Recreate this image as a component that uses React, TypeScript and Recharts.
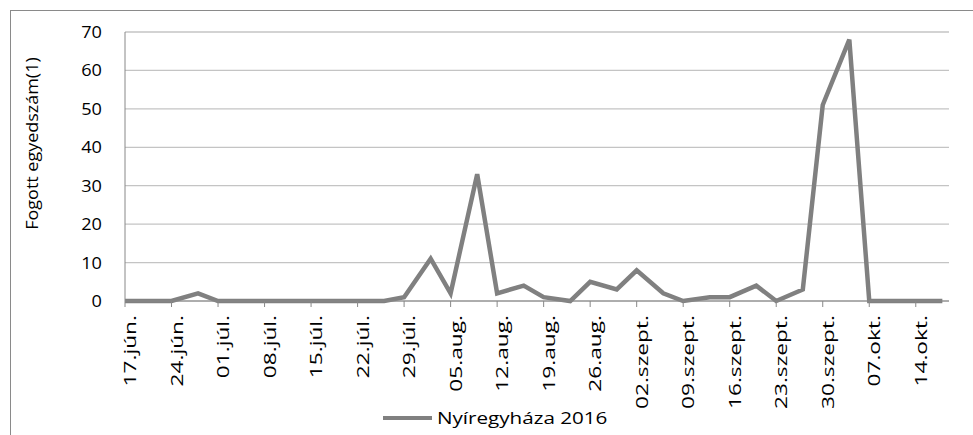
import React from "react";
import { LineChart, Line, XAxis, YAxis, CartesianGrid, Legend, Label } from "recharts";

// sampling dates (twice a week) and catches
const sampleDates = [
  "2016-06-17", "2016-06-21", "2016-06-24", "2016-06-28", "2016-07-01", "2016-07-05",
  "2016-07-08", "2016-07-12", "2016-07-15", "2016-07-19", "2016-07-22", "2016-07-26",
  "2016-07-29", "2016-08-02", "2016-08-05", "2016-08-09", "2016-08-12", "2016-08-16",
  "2016-08-19", "2016-08-23", "2016-08-26", "2016-08-30", "2016-09-02", "2016-09-06",
  "2016-09-09", "2016-09-13", "2016-09-16", "2016-09-20", "2016-09-23", "2016-09-27",
  "2016-09-30", "2016-10-04", "2016-10-07", "2016-10-11", "2016-10-14", "2016-10-18",
];
const catches = [
  0, 0, 0, 2, 0, 0,
  0, 0, 0, 0, 0, 0,
  1, 11, 2, 33, 2, 4,
  1, 0, 5, 3, 8, 2,
  0, 1, 1, 4, 0, 3,
  51, 68, 0, 0, 0, 0,
];
const tickLabels = [
  "17.jún.", "24.jún.", "01.júl.", "08.júl.", "15.júl.", "22.júl.", "29.júl.", "05.aug.", "12.aug.",
  "19.aug.", "26.aug.", "02.szept.", "09.szept.", "16.szept.", "23.szept.", "30.szept.", "07.okt.", "14.okt.",
];
const yTicks = [0, 10, 20, 30, 40, 50, 60, 70];
const seriesName = "Nyíregyháza 2016";
const yTitle = "Fogott egyedszám(1)";

const FONT = "'Open Sans', sans-serif";
const LINE = "#808080";

const DAY = 86400000;
const start = Date.parse(sampleDates[0]);
const dayOf = (iso: string) => Math.round((Date.parse(iso) - start) / DAY);

const data = sampleDates.map((d, i) => ({ day: dayOf(d), value: catches[i] }));
const xTicks = tickLabels.map((_, i) => i * 7);

function DateTick(props: any) {
  const { x, y, payload } = props;
  const label = tickLabels[Math.round(payload.value / 7)] ?? "";
  return (
    <g transform={`translate(${x + 11},${y})`}>
      <text
        transform="rotate(-90) scale(1.42,1)"
        textAnchor="end"
        fontFamily={FONT}
        fontSize={16}
        fill="#000"
      >
        {label}
      </text>
    </g>
  );
}

function ValueTick(props: any) {
  const { x, y, payload } = props;
  return (
    <text
      transform={`translate(${x},${y}) scale(1.1,1)`}
      textAnchor="end"
      dy="0.36em"
      fontFamily={FONT}
      fontSize={16.5}
      fill="#000"
    >
      {payload.value}
    </text>
  );
}

function LegendBox() {
  return (
    <div style={{ position: "relative", height: 34, width: 973 }}>
      <div style={{ position: "absolute", left: 383, top: 15, width: 49, height: 4, background: LINE }} />
      <span
        style={{
          position: "absolute",
          left: 437,
          top: 5,
          fontFamily: FONT,
          fontSize: 16.5,
          lineHeight: "24px",
          whiteSpace: "nowrap",
          transform: "scaleX(1.25)",
          transformOrigin: "left center",
          color: "#000",
        }}
      >
        {seriesName}
      </span>
    </div>
  );
}

export default function App() {
  return (
    <div style={{ position: "absolute", left: 0, top: 0, width: 973, height: 435, background: "#fff", overflow: "hidden" }}>
      <div
        style={{
          position: "absolute",
          left: 10,
          top: 10,
          width: 1000,
          height: 500,
          borderLeft: "1px solid #8a8a8a",
          borderTop: "1px solid #8a8a8a",
        }}
      />
      <div style={{ position: "absolute", left: 0, top: 0 }}>
        <LineChart width={973} height={435} data={data} margin={{ top: 32, right: 24, left: 0, bottom: 0 }}>
          <CartesianGrid vertical={false} stroke="#c4c4c4" strokeWidth={1.3} />
          <XAxis
            dataKey="day"
            type="number"
            domain={[0, 124]}
            ticks={xTicks}
            interval={0}
            height={100}
            tickSize={6}
            tickMargin={8}
            stroke="#888"
            tick={<DateTick />}
          />
          <YAxis
            domain={[0, 70]}
            ticks={yTicks}
            width={125}
            tickLine={false}
            tickSize={0}
            tickMargin={23}
            stroke="#888"
            tick={<ValueTick />}
          >
            <Label
              content={(p: any) => {
                const vb = p.viewBox || { x: 0, y: 32, width: 125, height: 269 };
                const cx = vb.x + 38;
                const cy = vb.y + vb.height / 2 - 23;
                return (
                  <text
                    transform={`translate(${cx},${cy}) rotate(-90) scale(1.16,1)`}
                    textAnchor="middle"
                    fontFamily={FONT}
                    fontSize={15.5}
                    fill="#000"
                  >
                    {yTitle}
                  </text>
                );
              }}
            />
          </YAxis>
          <Legend verticalAlign="bottom" content={<LegendBox />} wrapperStyle={{ left: 0, width: 973 }} />
          <Line
            type="linear"
            dataKey="value"
            name={seriesName}
            stroke={LINE}
            strokeWidth={4.5}
            dot={false}
            isAnimationActive={false}
          />
        </LineChart>
      </div>
    </div>
  );
}
